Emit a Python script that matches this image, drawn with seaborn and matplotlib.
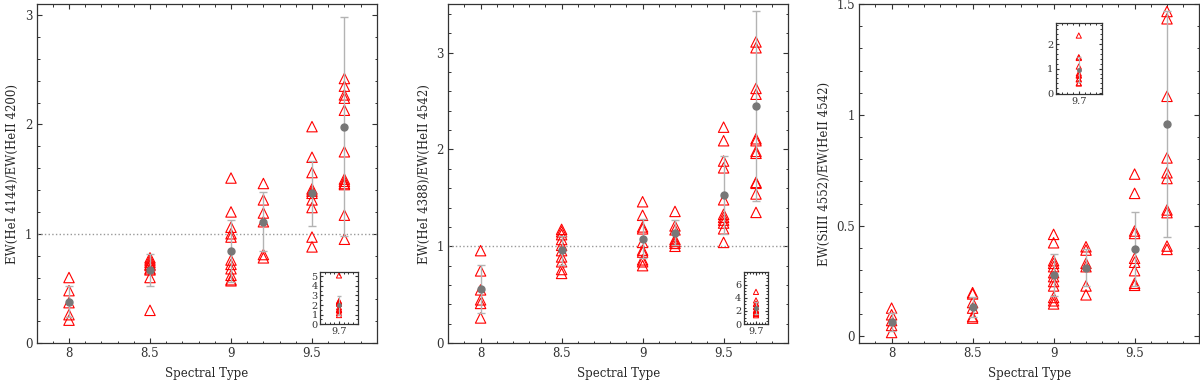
import matplotlib
matplotlib.use("Agg")
import matplotlib.pyplot as plt
import seaborn as sns
import pandas as pd
from matplotlib.ticker import MultipleLocator, FixedLocator

# spectral subtypes (O8 ... O9.7)
sptypes = [8, 8.5, 9, 9.2, 9.5, 9.7]

# EW(HeI 4144)/EW(HeII 4200), one list per subtype
r4144 = [
    [0.60, 0.48, 0.37, 0.26, 0.21],
    [0.78, 0.76, 0.74, 0.72, 0.71, 0.68, 0.67, 0.60, 0.30],
    [1.51, 1.20, 1.06, 1.00, 0.97, 0.76, 0.72, 0.68, 0.62, 0.58, 0.57],
    [1.46, 1.31, 1.19, 1.11, 0.81, 0.78],
    [1.98, 1.70, 1.56, 1.41, 1.39, 1.37, 1.31, 1.24, 0.97, 0.88],
    [5.10, 2.42, 2.35, 2.27, 2.24, 2.13, 1.75, 1.50, 1.48, 1.46, 1.45, 1.17, 0.95],
]
r4144_mean = [0.38, 0.67, 0.845, 1.11, 1.37, 1.98]
r4144_err = [0.14, 0.145, 0.285, 0.27, 0.30, 1.00]

# EW(HeI 4388)/EW(HeII 4542)
r4388 = [
    [0.955, 0.746, 0.55, 0.447, 0.41, 0.26],
    [1.175, 1.15, 1.12, 1.07, 1.01, 0.955, 0.89, 0.84, 0.76, 0.72],
    [1.46, 1.32, 1.20, 1.18, 1.04, 0.96, 0.94, 0.86, 0.84, 0.80],
    [1.36, 1.21, 1.17, 1.07, 1.05, 1.03, 1.00],
    [2.23, 2.09, 1.88, 1.81, 1.48, 1.33, 1.30, 1.27, 1.24, 1.18, 1.04],
    [4.90, 3.60, 3.11, 3.05, 2.63, 2.57, 2.11, 2.09, 1.98, 1.96, 1.66, 1.65, 1.54, 1.35],
]
r4388_mean = [0.557, 0.96, 1.08, 1.14, 1.53, 2.45]
r4388_err = [0.245, 0.15, 0.20, 0.13, 0.40, 0.98]

# EW(SiIII 4552)/EW(HeII 4542)
r4552 = [
    [0.128, 0.098, 0.072, 0.05, 0.018],
    [0.198, 0.192, 0.153, 0.128, 0.09, 0.083],
    [0.461, 0.423, 0.342, 0.330, 0.315, 0.288, 0.270, 0.248, 0.228, 0.176, 0.161, 0.147],
    [0.405, 0.39, 0.33, 0.315, 0.228, 0.188],
    [0.733, 0.646, 0.476, 0.465, 0.353, 0.335, 0.297, 0.240, 0.231],
    [2.35, 1.467, 1.434, 1.084, 0.806, 0.739, 0.713, 0.571, 0.559, 0.408, 0.393],
]
r4552_mean = [0.066, 0.135, 0.278, 0.311, 0.393, 0.958]
r4552_err = [0.04, 0.045, 0.093, 0.085, 0.167, 0.51]

ylabels = ["EW(HeI 4144)/EW(HeII 4200)",
           "EW(HeI 4388)/EW(HeII 4542)",
           "EW(SiIII 4552)/EW(HeII 4542)"]

sns.set_style("ticks")
plt.rcParams["font.family"] = ["DejaVu Serif"]
plt.rcParams["axes.edgecolor"] = "#333333"
plt.rcParams["axes.linewidth"] = 0.9


def long_table(vals):
    rows = []
    for st, v in zip(sptypes, vals):
        for y in v:
            rows.append((st, y))
    return pd.DataFrame(rows, columns=["spt", "ratio"])


def style_ticks(ax, size, major_len=3.6, minor_len=1.8):
    ax.tick_params(which="both", direction="in", top=True, right=True,
                   colors="#333333", labelsize=size, pad=3)
    ax.tick_params(which="major", length=major_len, width=0.8)
    ax.tick_params(which="minor", length=minor_len, width=0.7)
    for sp in ax.spines.values():
        sp.set_visible(True)


def draw(ax, df, means, errs, tri_s, dot_ms, cap):
    sns.scatterplot(data=df, x="spt", y="ratio", marker="^", s=tri_s,
                    facecolor="none", edgecolor="red", linewidth=0.8,
                    ax=ax, zorder=2, legend=False)
    ax.errorbar(df_spt_mean(means)[0], means, yerr=errs, fmt="o",
                color="#777777", ecolor="#b3b3b3", elinewidth=1.0,
                capsize=cap, capthick=1.0, ms=dot_ms, zorder=3)


def df_spt_mean(means):
    return sptypes[:len(means)], means


fig = plt.figure(figsize=(12, 3.8), dpi=100)

panels = [
    (r4144, r4144_mean, r4144_err, (0, 3.1), 1, 0.2, True, [0.0305, 0.097, 0.2835, 0.892]),
    (r4388, r4388_mean, r4388_err, (0, 3.5), 1, 0.2, True, [0.3735, 0.097, 0.2835, 0.892]),
    (r4552, r4552_mean, r4552_err, (-0.03, 1.5), 0.5, 0.1, False, [0.716, 0.097, 0.2835, 0.892]),
]
insets = [
    ([0.267, 0.147, 0.031, 0.137], (0, 5.45), 1, 0.5),
    ([0.620, 0.147, 0.020, 0.137], (0, 7.9), 2, 0.5),
    ([0.880, 0.753, 0.038, 0.187], (-0.03, 2.87), 1, 0.2),
]

for i, (vals, means, errs, ylim, major, minor, unity, rect) in enumerate(panels):
    ax = fig.add_axes(rect)
    df = long_table(vals)
    if unity:
        ax.axhline(1, ls=":", color="#999999", lw=1.0, zorder=1)
    draw(ax, df, means, errs, tri_s=56, dot_ms=5, cap=3)
    ax.set_xlim(7.8, 9.9)
    ax.set_ylim(*ylim)
    ax.xaxis.set_major_locator(FixedLocator([8, 8.5, 9, 9.5]))
    ax.set_xticklabels(["8", "8.5", "9", "9.5"])
    ax.xaxis.set_minor_locator(MultipleLocator(0.1))
    ax.yaxis.set_major_locator(MultipleLocator(major))
    ax.yaxis.set_minor_locator(MultipleLocator(minor))
    ax.yaxis.set_major_formatter(plt.FuncFormatter(lambda v, p: f"{v:g}"))
    style_ticks(ax, 8.5)
    ax.set_xlabel("Spectral Type", fontsize=8.5, labelpad=5)
    ax.set_ylabel(ylabels[i], fontsize=8.5, labelpad=4)

    # inset with the full O9.7 column
    irect, iylim, imajor, iminor = insets[i]
    ins = fig.add_axes(irect)
    dfi = df[df["spt"] == 9.7]
    sns.scatterplot(data=dfi, x="spt", y="ratio", marker="^", s=14,
                    facecolor="none", edgecolor="red", linewidth=0.7,
                    ax=ins, zorder=2, legend=False)
    ins.errorbar([9.7], [means[-1]], yerr=[errs[-1]], fmt="o",
                 color="#777777", ecolor="#b3b3b3", elinewidth=0.8,
                 capsize=1.5, ms=2.5, zorder=3)
    ins.set_xlim(9.6, 9.8)
    ins.set_ylim(*iylim)
    ins.xaxis.set_major_locator(FixedLocator([9.7]))
    ins.set_xticklabels(["9.7"])
    ins.xaxis.set_minor_locator(MultipleLocator(0.025))
    ins.yaxis.set_major_locator(MultipleLocator(imajor))
    ins.yaxis.set_minor_locator(MultipleLocator(iminor))
    ins.yaxis.set_major_formatter(plt.FuncFormatter(lambda v, p: f"{v:g}"))
    style_ticks(ins, 7, major_len=2.5, minor_len=1.3)
    ins.tick_params(pad=2)
    ins.set_xlabel("")
    ins.set_ylabel("")

fig.savefig("out.png", dpi=100)
